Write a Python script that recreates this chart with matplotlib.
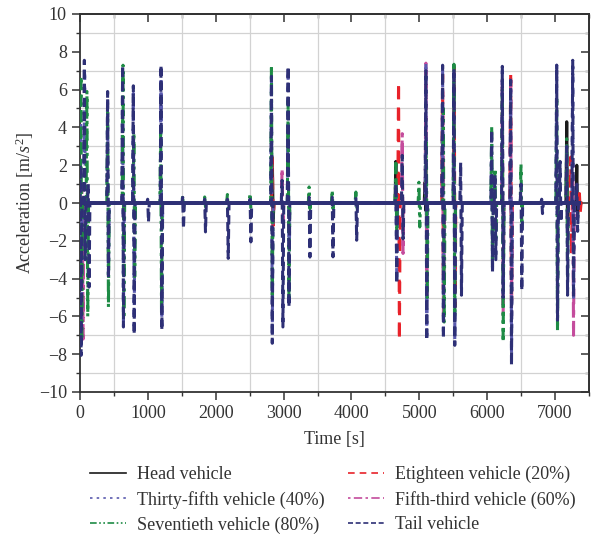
import matplotlib
matplotlib.use("Agg")
import matplotlib.pyplot as plt
from matplotlib.ticker import MultipleLocator
import numpy as np

plt.rcParams['font.family'] = ['Liberation Serif', 'DejaVu Serif']
plt.rcParams['mathtext.fontset'] = 'custom'
plt.rcParams['mathtext.rm'] = 'Liberation Serif'
plt.rcParams['mathtext.it'] = 'Liberation Serif:italic'
TXT = '#333333'

# spike events per vehicle: time [s], peak up, peak down [m/s^2]
head_t = [2840, 4660, 5090, 7178, 7326]
head_hi = [2.4, 2.2, 1.1, 4.3, 2.0]
head_lo = [-1.0, -1.0, -0.4, -1.6, -0.8]

v18_t = [2840, 4700, 5349, 5520, 6352, 7236, 7365]
v18_hi = [2.4, 6.4, 6.8, 7.2, 6.93, 2.43, 0.5]
v18_lo = [-1.2, -7.26, -4.6, -5.5, -6.0, -2.7, -0.5]

v35_t = [15, 75, 413, 634, 792, 1200, 2827, 3073, 4661, 5103, 5349, 5516, 6072, 6229, 6352, 7030, 7266]
v35_hi = [5.0, 7.0, 5.5, 7.0, 5.8, 7.0, 6.5, 7.0, 1.0, 7.46, 7.0, 7.0, 3.5, 7.0, 6.0, 7.29, 7.2]
v35_lo = [-7.5, -3.0, -4.0, -6.2, -6.5, -6.5, -7.0, -5.3, -4.0, -7.0, -7.0, -7.2, -3.5, -5.0, -8.0, -6.0, -5.0]

v53_t = [40, 2984, 4754, 5103, 5349, 6229, 6352, 7266]
v53_hi = [1.0, 1.83, 3.67, 7.4, 6.0, 6.5, 6.5, 2.0]
v53_lo = [-7.2, -1.0, -2.67, -5.0, -6.0, -6.0, -5.5, -7.0]

v70_t = [20, 108, 413, 640, 800, 1195, 1519, 1843, 2178, 2512, 2827, 3073, 3382,
         3722, 4071, 4660, 5000, 5110, 5360, 5516, 6072, 6121, 6229, 6504, 7030, 7178]
v70_hi = [6.7, 5.9, 4.8, 7.29, 3.7, 4.0, 0.4, 0.32, 0.45, 0.5, 7.29, 5.4, 0.85,
          0.67, 0.58, 2.26, 1.1, 3.2, 5.0, 7.34, 4.02, 1.82, 6.0, 2.08, 5.5, 3.4]
v70_lo = [-7.1, -6.0, -5.5, -6.1, -3.9, -5.8, -0.3, -0.2, -0.3, -0.3, -5.0, -5.15, -0.3,
          -0.3, -0.3, -1.5, -1.27, -5.0, -6.3, -6.0, -3.39, -2.0, -7.35, -1.0, -6.73, -4.0]

tail_t = [10, 70, 128, 413, 634, 792, 1003, 1200, 1519, 1843, 2178, 2512, 2827, 2984,
          3073, 3382, 3722, 4071, 4661, 4754, 5103, 5349, 5516, 5615, 6072, 6121, 6229,
          6352, 6504, 6809, 7030, 7080, 7178, 7266, 7326]
tail_hi = [2.0, 7.55, 1.0, 5.9, 7.29, 6.2, 0.2, 7.29, 0.3, 0.2, 0.2, 0.2, 6.7, 1.2,
           7.23, 0.3, 0.3, 0.3, 1.0, 2.52, 7.0, 7.29, 7.1, 2.14, 3.85, 1.5, 7.23,
           6.5, 1.0, 0.2, 7.29, 2.2, 3.0, 7.55, 1.0]
tail_lo = [-8.06, -3.0, -4.45, -4.0, -6.56, -6.95, -1.0, -6.73, -1.35, -1.53, -2.93, -2.06,
           -7.42, -6.56, -5.5, -2.86, -2.85, -1.97, -4.27, -1.9, -7.26, -7.18, -7.53, -4.88,
           -3.65, -3.0, -5.0, -8.59, -4.62, -0.56, -6.2, -1.0, -4.88, -5.0, -1.5]

t_end = 7380


def trace(times, hi, lo):
    # baseline at zero with each event drawn as an up/down swing
    x = [0.0]
    y = [0.0]
    for t, h, l in zip(times, hi, lo):
        x += [max(t - 18, 0), max(t - 6, 0), t + 6, t + 18]
        y += [0.0, h, l, 0.0]
    x.append(t_end)
    y.append(0.0)
    return np.array(x), np.array(y)


series = [
    ("Head vehicle", head_t, head_hi, head_lo, '#1a1a1a', '-'),
    ("Thirty-fifth vehicle (40%)", v35_t, v35_hi, v35_lo, '#5a5aae', (0, (1.5, 2.5))),
    ("Seventieth vehicle (80%)", v70_t, v70_hi, v70_lo, '#1e8b45', (0, (4, 1.5, 1, 1.5, 1, 1.5))),
    ("Etighteen vehicle (20%)", v18_t, v18_hi, v18_lo, '#e8222a', (0, (4, 3))),
    ("Fifth-third vehicle (60%)", v53_t, v53_hi, v53_lo, '#c44c9c', (0, (1.5, 2, 5, 2))),
    ("Tail vehicle", tail_t, tail_hi, tail_lo, '#2e3076', (0, (3, 1.6))),
]
z_order = {"Head vehicle": 2, "Etighteen vehicle (20%)": 3, "Fifth-third vehicle (60%)": 4,
           "Thirty-fifth vehicle (40%)": 5, "Seventieth vehicle (80%)": 6, "Tail vehicle": 7}

fig = plt.figure(figsize=(5.98, 5.37), dpi=100)
ax = fig.add_axes([80 / 598, 145 / 537, 509 / 598, 378 / 537])

for name, t, h, l, c, ls in series:
    x, y = trace(t, h, l)
    ax.plot(x, y, color=c, linestyle=ls, linewidth=2.2, label=name, zorder=z_order[name])

# measurement noise band around zero shared by all vehicles
ax.plot([0, t_end], [0, 0], color='#2e3076', linewidth=2.8, zorder=8, solid_capstyle='butt')

ax.set_xlim(0, 7500)
ax.set_ylim(-10, 10)
ax.xaxis.set_major_locator(MultipleLocator(1000))
ax.xaxis.set_minor_locator(MultipleLocator(500))
ax.yaxis.set_major_locator(MultipleLocator(2))
ax.yaxis.set_minor_locator(MultipleLocator(1))
ax.grid(which='minor', color='#d2d2d2', linewidth=0.9, zorder=0)
ax.grid(which='major', visible=False)
ax.set_axisbelow(True)

ax.tick_params(which='both', direction='out', colors=TXT, labelsize=13)
ax.tick_params(which='major', length=6, width=1.1)
ax.tick_params(which='minor', length=3, width=1.0)

sec_x = ax.secondary_xaxis('top')
sec_x.xaxis.set_major_locator(MultipleLocator(1000))
sec_x.xaxis.set_minor_locator(MultipleLocator(500))
sec_x.tick_params(which='both', direction='in', labeltop=False, colors=TXT)
sec_x.tick_params(which='major', length=6, width=1.1)
sec_x.tick_params(which='minor', length=3, width=1.0)
sec_y = ax.secondary_yaxis('right')
sec_y.yaxis.set_major_locator(MultipleLocator(2))
sec_y.yaxis.set_minor_locator(MultipleLocator(1))
sec_y.tick_params(which='both', direction='in', labelright=False, colors=TXT)
sec_y.tick_params(which='major', length=6, width=1.1)
sec_y.tick_params(which='minor', length=3, width=1.0)

for a in (ax, sec_x, sec_y):
    for s in a.spines.values():
        s.set_color(TXT)
        s.set_linewidth(1.3)

ax.set_xlabel("Time [s]", fontsize=13, color=TXT, labelpad=6)
ax.set_ylabel("Acceleration [m/$s^2$]", fontsize=13, color=TXT, labelpad=2)

handles, labels = ax.get_legend_handles_labels()
leg = fig.legend(handles, labels, loc='upper center', bbox_to_anchor=(0.556, 0.139),
                 ncol=2, frameon=False, fontsize=13, handlelength=2.0,
                 handletextpad=0.6, columnspacing=1.3, labelspacing=0.42,
                 borderaxespad=0.0, borderpad=0.2)
for line in leg.get_lines():
    line.set_linewidth(1.2)
for text in leg.get_texts():
    text.set_color(TXT)

fig.savefig("out.png", dpi=100)
